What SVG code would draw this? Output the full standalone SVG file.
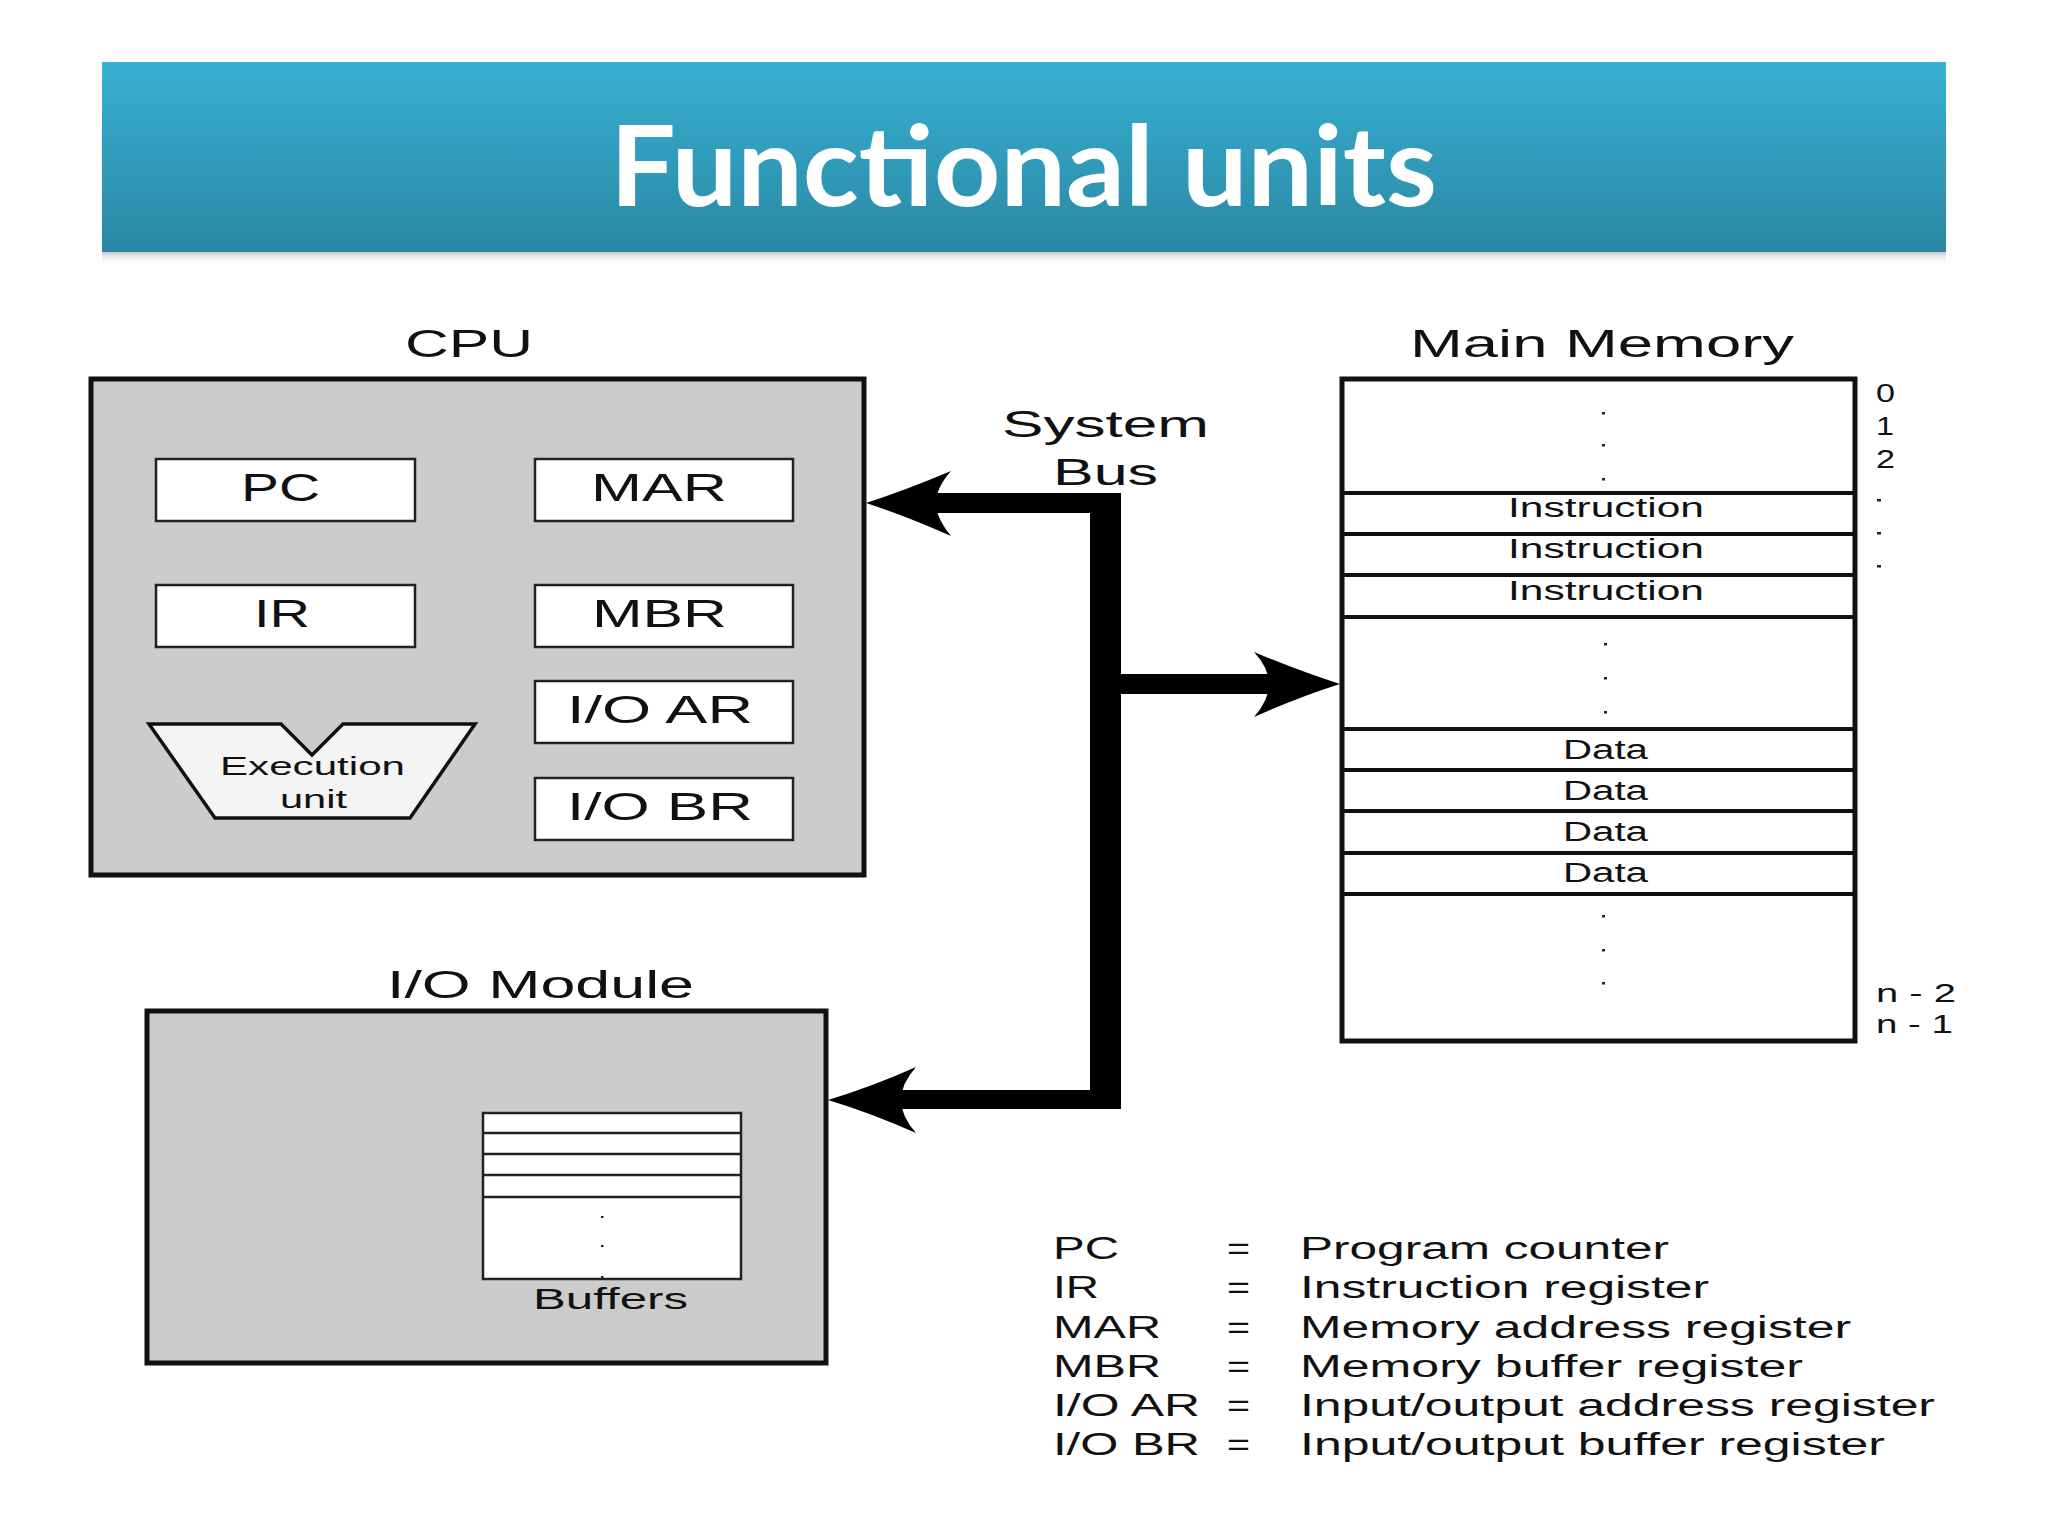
<svg xmlns="http://www.w3.org/2000/svg" width="2048" height="1536" viewBox="0 0 2048 1536">
<defs>
<linearGradient id="tg" x1="0" y1="0" x2="0" y2="1">
<stop offset="0" stop-color="#38b0d2"/>
<stop offset="1" stop-color="#2a88a3"/>
</linearGradient>
<linearGradient id="sh" x1="0" y1="0" x2="0" y2="1">
<stop offset="0" stop-color="#c8c8c8"/>
<stop offset="1" stop-color="#ffffff" stop-opacity="0"/>
</linearGradient>
<style>
text{font-family:"Liberation Sans",Arial,sans-serif;fill:#111;}
.t{font-family:Lato,"Open Sans",sans-serif;font-weight:bold;fill:#fff;font-size:112px;}
.h{font-size:38px;}
.r{font-size:38px;}
.m{font-size:27px;}
.l{font-size:31px;}
.a{font-size:25px;}
.big{fill:#cccccc;stroke:#111;stroke-width:5;}
.reg{fill:#fff;stroke:#222;stroke-width:2.5;}
.row{stroke:#111;stroke-width:4;}
.brow{stroke:#222;stroke-width:2.5;}
.bus{fill:#000;}
.dot{fill:#222;}
</style>
</defs>
<rect width="2048" height="1536" fill="#fff"/>
<g id="title">
<rect x="102" y="252" width="1844" height="14" fill="url(#sh)"/>
<rect x="102" y="62" width="1844" height="190" fill="url(#tg)"/>
<text class="t" x="610" y="206" textLength="827" lengthAdjust="spacingAndGlyphs">Functional units</text>
</g>
<g id="cpu">
<text class="h" x="405" y="357" textLength="128" lengthAdjust="spacingAndGlyphs">CPU</text>
<rect class="big" x="91" y="379" width="773" height="496"/>
<g id="pc"><rect class="reg" x="156" y="459" width="259" height="62"/><text class="r" x="241" y="501" textLength="79" lengthAdjust="spacingAndGlyphs">PC</text></g>
<g id="mar"><rect class="reg" x="535" y="459" width="258" height="62"/><text class="r" x="591" y="501" textLength="136" lengthAdjust="spacingAndGlyphs">MAR</text></g>
<g id="ir"><rect class="reg" x="156" y="585" width="259" height="62"/><text class="r" x="254" y="627" textLength="56" lengthAdjust="spacingAndGlyphs">IR</text></g>
<g id="mbr"><rect class="reg" x="535" y="585" width="258" height="62"/><text class="r" x="592" y="627" textLength="135" lengthAdjust="spacingAndGlyphs">MBR</text></g>
<g id="ioar"><rect class="reg" x="535" y="681" width="258" height="62"/><text class="r" x="567" y="723" textLength="186" lengthAdjust="spacingAndGlyphs">I/O AR</text></g>
<g id="iobr"><rect class="reg" x="535" y="778" width="258" height="62"/><text class="r" x="567" y="820" textLength="186" lengthAdjust="spacingAndGlyphs">I/O BR</text></g>
<g id="exec">
<polygon points="149,724 281,724 312,755 343,724 475,724 410,818 215,818" fill="#f4f4f4" stroke="#111" stroke-width="3.5" stroke-linejoin="miter"/>
<text class="m" x="220" y="775" textLength="185" lengthAdjust="spacingAndGlyphs" style="font-size:26px">Execution</text>
<text class="m" x="280" y="808" textLength="67" lengthAdjust="spacingAndGlyphs" style="font-size:26px">unit</text>
</g>
</g>
<g id="memory">
<text class="h" x="1410" y="357" textLength="384" lengthAdjust="spacingAndGlyphs">Main Memory</text>
<rect x="1342" y="379" width="513" height="662" fill="#fff" stroke="#111" stroke-width="5"/>
<line class="row" x1="1342" y1="493" x2="1855" y2="493"/>
<line class="row" x1="1342" y1="534" x2="1855" y2="534"/>
<line class="row" x1="1342" y1="575" x2="1855" y2="575"/>
<line class="row" x1="1342" y1="617" x2="1855" y2="617"/>
<line class="row" x1="1342" y1="729" x2="1855" y2="729"/>
<line class="row" x1="1342" y1="770" x2="1855" y2="770"/>
<line class="row" x1="1342" y1="811" x2="1855" y2="811"/>
<line class="row" x1="1342" y1="853" x2="1855" y2="853"/>
<line class="row" x1="1342" y1="894" x2="1855" y2="894"/>
<rect class="dot" x="1602" y="412" width="3" height="2.5"/>
<rect class="dot" x="1602" y="444" width="3" height="2.5"/>
<rect class="dot" x="1602" y="478" width="3" height="2.5"/>
<rect class="dot" x="1604" y="643" width="3" height="2.5"/>
<rect class="dot" x="1604" y="677" width="3" height="2.5"/>
<rect class="dot" x="1604" y="711" width="3" height="2.5"/>
<rect class="dot" x="1602" y="915" width="3" height="2.5"/>
<rect class="dot" x="1602" y="949" width="3" height="2.5"/>
<rect class="dot" x="1602" y="982" width="3" height="2.5"/>
<text class="m" x="1508" y="517" textLength="196" lengthAdjust="spacingAndGlyphs">Instruction</text>
<text class="m" x="1508" y="558" textLength="196" lengthAdjust="spacingAndGlyphs">Instruction</text>
<text class="m" x="1508" y="600" textLength="196" lengthAdjust="spacingAndGlyphs">Instruction</text>
<text class="m" x="1563" y="759" textLength="85" lengthAdjust="spacingAndGlyphs">Data</text>
<text class="m" x="1563" y="800" textLength="85" lengthAdjust="spacingAndGlyphs">Data</text>
<text class="m" x="1563" y="841" textLength="85" lengthAdjust="spacingAndGlyphs">Data</text>
<text class="m" x="1563" y="882" textLength="85" lengthAdjust="spacingAndGlyphs">Data</text>
<text class="a" x="1876" y="402" textLength="19" lengthAdjust="spacingAndGlyphs">0</text>
<text class="a" x="1876" y="435" textLength="18" lengthAdjust="spacingAndGlyphs">1</text>
<text class="a" x="1876" y="468" textLength="19" lengthAdjust="spacingAndGlyphs">2</text>
<rect class="dot" x="1877" y="499" width="4" height="2.5"/>
<rect class="dot" x="1877" y="532" width="4" height="2.5"/>
<rect class="dot" x="1877" y="565" width="4" height="2.5"/>
<text class="a" x="1876" y="1002" textLength="80" lengthAdjust="spacingAndGlyphs">n - 2</text>
<text class="a" x="1876" y="1033" textLength="77" lengthAdjust="spacingAndGlyphs">n - 1</text>
</g>
<g id="io-module">
<text class="h" x="387" y="998" textLength="307" lengthAdjust="spacingAndGlyphs">I/O Module</text>
<rect class="big" x="147" y="1011" width="679" height="352"/>
<g id="buffers">
<rect class="reg" x="483" y="1113" width="258" height="166"/>
<line class="brow" x1="483" y1="1133" x2="741" y2="1133"/>
<line class="brow" x1="483" y1="1154" x2="741" y2="1154"/>
<line class="brow" x1="483" y1="1175" x2="741" y2="1175"/>
<line class="brow" x1="483" y1="1197" x2="741" y2="1197"/>
<rect class="dot" x="601" y="1216" width="2.5" height="2"/>
<rect class="dot" x="601" y="1245" width="2.5" height="2"/>
<rect class="dot" x="601" y="1276" width="2.5" height="2"/>
<text class="l" x="533" y="1309" textLength="155" lengthAdjust="spacingAndGlyphs" style="font-size:30px">Buffers</text>
</g>
</g>
<g id="connectors">
<text class="h" x="1002" y="437" textLength="207" lengthAdjust="spacingAndGlyphs" style="font-size:36px">System</text>
<text class="h" x="1053" y="485" textLength="105" lengthAdjust="spacingAndGlyphs" style="font-size:36px">Bus</text>
<path class="bus" d="M936,493 H1121 V1109 H900 V1090 H1090 V513 H936 Z"/>
<rect class="bus" x="1110" y="674" width="160" height="20"/>
<path class="bus" d="M866,503 Q906,490 951,471 Q936,488 936,503 Q936,518 951,536 Q906,516 866,503 Z"/>
<path class="bus" d="M1340,684 Q1299,671 1254,652 Q1269,668 1269,684 Q1269,700 1254,717 Q1299,697 1340,684 Z"/>
<path class="bus" d="M828,1100 Q871,1087 916,1067 Q901,1084 901,1100 Q901,1116 916,1133 Q871,1113 828,1100 Z"/>
</g>
<g id="legend">
<text class="l" x="1053" y="1259" textLength="66" lengthAdjust="spacingAndGlyphs">PC</text>
<text class="l" x="1053" y="1298" textLength="46" lengthAdjust="spacingAndGlyphs">IR</text>
<text class="l" x="1053" y="1338" textLength="108" lengthAdjust="spacingAndGlyphs">MAR</text>
<text class="l" x="1053" y="1377" textLength="108" lengthAdjust="spacingAndGlyphs">MBR</text>
<text class="l" x="1053" y="1416" textLength="147" lengthAdjust="spacingAndGlyphs">I/O AR</text>
<text class="l" x="1053" y="1455" textLength="147" lengthAdjust="spacingAndGlyphs">I/O BR</text>
<text class="l" x="1227" y="1259" textLength="23" lengthAdjust="spacingAndGlyphs">=</text>
<text class="l" x="1227" y="1298" textLength="23" lengthAdjust="spacingAndGlyphs">=</text>
<text class="l" x="1227" y="1338" textLength="23" lengthAdjust="spacingAndGlyphs">=</text>
<text class="l" x="1227" y="1377" textLength="23" lengthAdjust="spacingAndGlyphs">=</text>
<text class="l" x="1227" y="1416" textLength="23" lengthAdjust="spacingAndGlyphs">=</text>
<text class="l" x="1227" y="1455" textLength="23" lengthAdjust="spacingAndGlyphs">=</text>
<text class="l" x="1300" y="1259" textLength="369" lengthAdjust="spacingAndGlyphs">Program counter</text>
<text class="l" x="1300" y="1298" textLength="409" lengthAdjust="spacingAndGlyphs">Instruction register</text>
<text class="l" x="1300" y="1338" textLength="551" lengthAdjust="spacingAndGlyphs">Memory address register</text>
<text class="l" x="1300" y="1377" textLength="503" lengthAdjust="spacingAndGlyphs">Memory buffer register</text>
<text class="l" x="1300" y="1416" textLength="635" lengthAdjust="spacingAndGlyphs">Input/output address register</text>
<text class="l" x="1300" y="1455" textLength="585" lengthAdjust="spacingAndGlyphs">Input/output buffer register</text>
</g>
</svg>
